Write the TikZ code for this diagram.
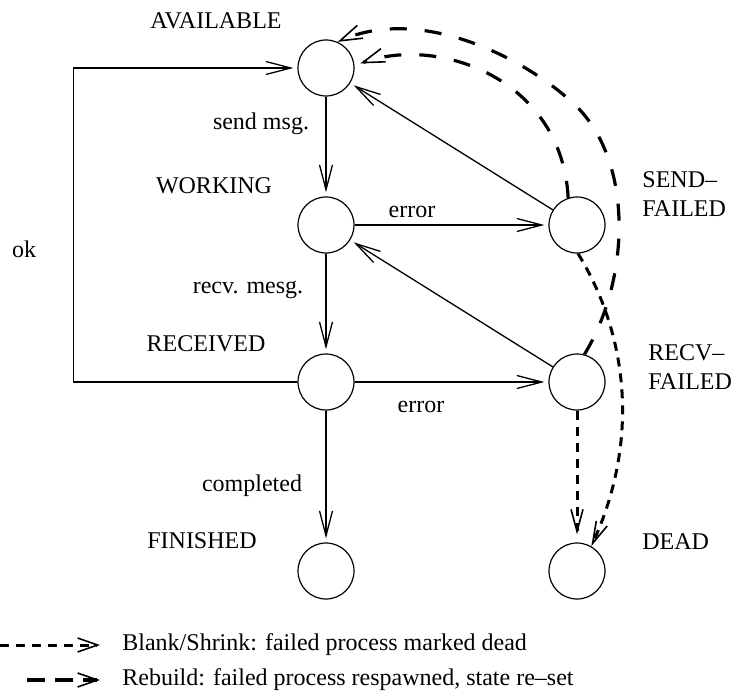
\documentclass[tikz,border=0pt]{standalone}
\usepackage{fontspec}
\setmainfont{Liberation Serif}
\usetikzlibrary{arrows.meta}
\begin{document}
\begin{tikzpicture}[x=0.5pt,y=-0.5pt,
  every node/.style={font=\fontsize{12}{14.5}\selectfont, inner sep=0pt},
  state/.style={circle, draw, line width=0.6pt, minimum size=28pt},
  flow/.style={line width=0.65pt, -{Straight Barb[length=12.5pt,width=6.5pt]}, shorten >=2pt},
  shrink/.style={line width=1.5pt, dash pattern=on 4.5pt off 3.5pt,
    -{Straight Barb[length=11pt,width=6pt,line width=0.8pt]}},
  rebuild/.style={line width=1.6pt, dash pattern=on 8.5pt off 9pt,
    -{Straight Barb[length=11pt,width=7pt,line width=0.8pt]}},
  keyhead/.style={-{Straight Barb[length=10pt,width=7pt,line width=0.8pt]}},
]
\useasboundingbox (0,0) rectangle (737,695);

% states
\node[state] (av) at (326,68) {};
\node[state] (wk) at (326,225) {};
\node[state] (rc) at (326,382) {};
\node[state] (fn) at (326,571) {};
\node[state] (sf) at (577,225) {};
\node[state] (rf) at (577,382) {};
\node[state] (dd) at (577,571) {};

% state names
\node (lav) at (216,21) {AVAILABLE};
\node (lwk) at (214,186) {WORKING};
\node (lrc) at (206,344) {RECEIVED};
\node (lfn) at (202,541) {FINISHED};
\node[anchor=west, align=left] (lsf) at (642,194) {SEND\textendash\\FAILED};
\node[anchor=west, align=left] (lrf) at (648,367) {RECV\textendash\\FAILED};
\node[anchor=west] (ldd) at (642,542) {DEAD};

% normal transitions
\draw[flow] (av) -- (wk);
\draw[flow] (wk) -- (sf);
\draw[flow] (wk) -- (rc);
\draw[flow] (rc) -- (rf);
\draw[flow] (rc) -- (fn);
\draw[flow] (sf) -- (av);
\draw[flow] (rf) -- (wk);
\draw[flow] (rc.west) -- ++(-224,0) |- (av.west);

% transition labels
\node (lsend) at (261,124) {send msg.};
\node (lrecv) at (248,290) {recv. mesg.};
\node (lcomp) at (252,486) {completed};
\node (lerr1) at (412,212) {error};
\node (lerr2) at (421,407) {error};
\node (lok) at (24,249) {ok};

% rebuild transitions
\coordinate (rbA) at (573,103);
\draw[rebuild] (rf.75) .. controls (630,280) and (635,160) .. (rbA)
  .. controls (523,57) and (420,5) .. (av.66);
\draw[rebuild, shorten >=3pt] (sf.108) .. controls (562,80) and (440,35) .. (av.5);

% blank/shrink transitions
\draw[shrink] (sf.-88) .. controls (628,335) and (640,440) .. (dd.60);
\draw[shrink, shorten >=4pt] (rf) -- (dd);

% key
\coordinate (k1s) at (0,645);
\coordinate (k1e) at (100,645);
\draw[shrink, keyhead] (k1s) -- (k1e);
\node[anchor=west] (k1t) at (122,645) {Blank/Shrink: failed process marked dead};
\coordinate (k2s) at (27,680);
\coordinate (k2e) at (100,680);
\draw[rebuild, keyhead, dash pattern=on 9pt off 5pt] (k2s) -- (k2e);
\node[anchor=west] (k2t) at (122,680) {Rebuild: failed process respawned, state re\textendash set};
\end{tikzpicture}
\end{document}
